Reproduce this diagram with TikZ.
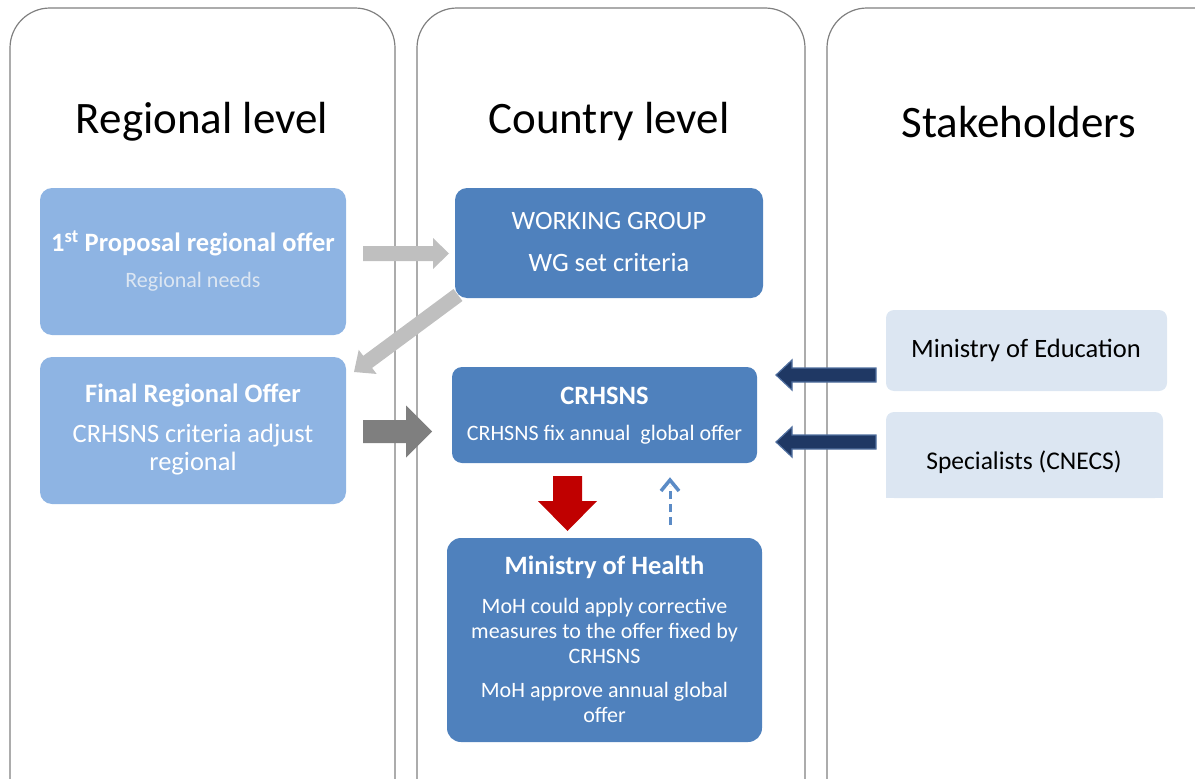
\documentclass[tikz,border=0pt]{standalone}
\usepackage{fontspec}
\setmainfont{Carlito}
\usetikzlibrary{calc}
\definecolor{lightblue}{HTML}{8EB4E3}
\definecolor{midblue}{HTML}{4F81BD}
\definecolor{dashblue}{HTML}{5B8BC6}
\definecolor{paleblue}{HTML}{DCE6F2}
\definecolor{navy}{HTML}{1F3864}
\definecolor{navyedge}{HTML}{4F6E9E}
\definecolor{lgray}{HTML}{BFBFBF}
\definecolor{dgray}{HTML}{7F7F7F}
\definecolor{darkred}{HTML}{C00000}
\definecolor{panelline}{HTML}{808080}
% fat block arrow: #1 style, #2 shaft half width, #3 head half width, #4 head length, #5 from, #6 to
\newcommand\fatarrow[6]{%
  \coordinate (fab) at ($(#6)!#4!(#5)$);
  \path[#1] ($(#5)!#2!90:(#6)$) -- ($(fab)!#2!90:(#6)$) -- ($(fab)!#3!90:(#6)$) -- (#6)
    -- ($(fab)!#3!-90:(#6)$) -- ($(fab)!#2!-90:(#6)$) -- ($(#5)!#2!-90:(#6)$) -- cycle;
}
\begin{document}
\begin{tikzpicture}[x=1pt,y=-1pt,
  panel/.style={draw=panelline,line width=1.2pt,rounded corners=40pt},
  boxbase/.style={inner sep=0pt,outer sep=0pt,rectangle},
  lbox/.style={boxbase,fill=lightblue,rounded corners=12pt},
  mbox/.style={boxbase,fill=midblue,rounded corners=12pt},
  title/.style={font=\fontsize{45}{54}\selectfont},
  big/.style={font=\fontsize{26.5}{30}\selectfont},
  bigb/.style={font=\fontsize{26.5}{30}\selectfont\bfseries},
  small/.style={font=\fontsize{22}{25}\selectfont}
]
\useasboundingbox (0,0) rectangle (1195,779);
\begin{scope}
\clip (0,0) rectangle (1195,779);
% panels
\draw[panel] (10,800) -- (10,8) -- (395,8) -- (395,800);
\draw[panel] (417,800) -- (417,8) -- (805,8) -- (805,800);
\draw[panel] (827,800) -- (827,8) -- (1235,8) -- (1235,800);
% titles
\node[title] (t1) at (202,122) {Regional level};
\node[title] (t2) at (609,122) {Country level};
\node[title] (t3) at (1019,122) {Stakeholders};

% boxes
\node[lbox,minimum width=306pt,minimum height=147pt] (prop) at (193,261.5) {};
\node[text=white,bigb] (propa) at (193,243) {1\textsuperscript{st} Proposal regional offer};
\node[text=paleblue,small] (propb) at (193,282) {Regional needs};

\node[lbox,minimum width=306pt,minimum height=147pt] (final) at (193,430.5) {};
\node[text=white,bigb] (finala) at (193,395) {Final Regional Offer};
\node[text=white,align=center,font=\fontsize{26.5}{28}\selectfont] (finalb) at (193,450) {CRHSNS criteria adjust\\regional};

\node[mbox,minimum width=308pt,minimum height=110pt] (wg) at (609,243) {};
\node[text=white,big] (wga) at (609,221) {WORKING GROUP};
\node[text=white,big] (wgb) at (609,262) {WG set criteria};

\node[mbox,rounded corners=10pt,minimum width=305pt,minimum height=96pt] (crh) at (604.5,415) {};
\node[text=white,bigb] (crha) at (604.5,396) {CRHSNS};
\node[text=white,small] (crhb) at (604.5,435) {CRHSNS fix annual\ \ global offer};

\node[mbox,rounded corners=14pt,minimum width=315pt,minimum height=204pt] (moh) at (604.5,640) {};
\node[text=white,bigb] (moha) at (604.5,567) {Ministry of Health};
\node[text=white,small,align=center] (mohb) at (604.5,631) {MoH could apply corrective\\measures to the offer fixed by\\CRHSNS};
\node[text=white,small,align=center] (mohc) at (604.5,702.5) {MoH approve annual global\\offer};

\node[boxbase,fill=paleblue,rounded corners=8pt,minimum width=281pt,minimum height=81pt] (moebox) at (1026.5,350.5) {};
\node[big] (moe) at (1026,350) {Ministry of Education};
\node[boxbase,minimum width=277pt,minimum height=86pt] (specbox) at (1024.5,455) {};
\fill[paleblue,rounded corners=8pt] (specbox.north west) rectangle (specbox.south east);
\fill[paleblue] ($(specbox.west)$) rectangle (specbox.south east);
\node[font=\fontsize{25.5}{30}\selectfont] (spec) at (1024,462) {Specialists (CNECS)};

% connector end points
\coordinate (a1s) at ($(prop.east)+(17,-8)$);
\coordinate (a1e) at ($(wg.west)+(-6,10.5)$);
\coordinate (a2s) at ($(wg.south west)+(3,-3)$);
\coordinate (a2e) at ($(final.north east)+(8,15)$);
\coordinate (a3s) at ($(final.east)+(17,1)$);
\coordinate (a3e) at ($(crh.west)+(-20,16.5)$);
\coordinate (a4s) at ($(crh.south)+(-37,13)$);
\coordinate (a4e) at ($(moh.north)+(-37,-7)$);
\coordinate (a5s) at ($(moh.north)+(65.5,-13)$);
\coordinate (a5e) at ($(crh.south)+(65.5,17)$);
\coordinate (a6s) at ($(moebox.west)+(-10,24.5)$);
\coordinate (a6e) at ($(crh.east)+(19,-40)$);
\coordinate (a7s) at ($(specbox.west)+(-10,-13)$);
\coordinate (a7e) at ($(crh.east)+(19,27)$);

% arrows
\fatarrow{fill=lgray}{7.5pt}{15.5pt}{16pt}{a1s}{a1e}
\fatarrow{fill=lgray}{7.5pt}{15pt}{17pt}{a2s}{a2e}
\fatarrow{fill=dgray}{11.5pt}{26pt}{26pt}{a3s}{a3e}
\fatarrow{fill=darkred}{14.5pt}{29.5pt}{30pt}{a4s}{a4e}
\fatarrow{fill=navy,draw=navyedge,line width=1.2pt}{7pt}{15pt}{16pt}{a6s}{a6e}
\fatarrow{fill=navy,draw=navyedge,line width=1.2pt}{7pt}{15pt}{16pt}{a7s}{a7e}
% dashed blue arrow
\draw[dashblue,line width=3pt,dash pattern=on 8pt off 5pt] (a5s) -- ($(a5e)+(0,6)$);
\draw[dashblue,line width=3.5pt,line join=miter] ($(a5e)+(-9,11)$) -- (a5e) -- ($(a5e)+(9,11)$);
\end{scope}
\end{tikzpicture}
\end{document}
